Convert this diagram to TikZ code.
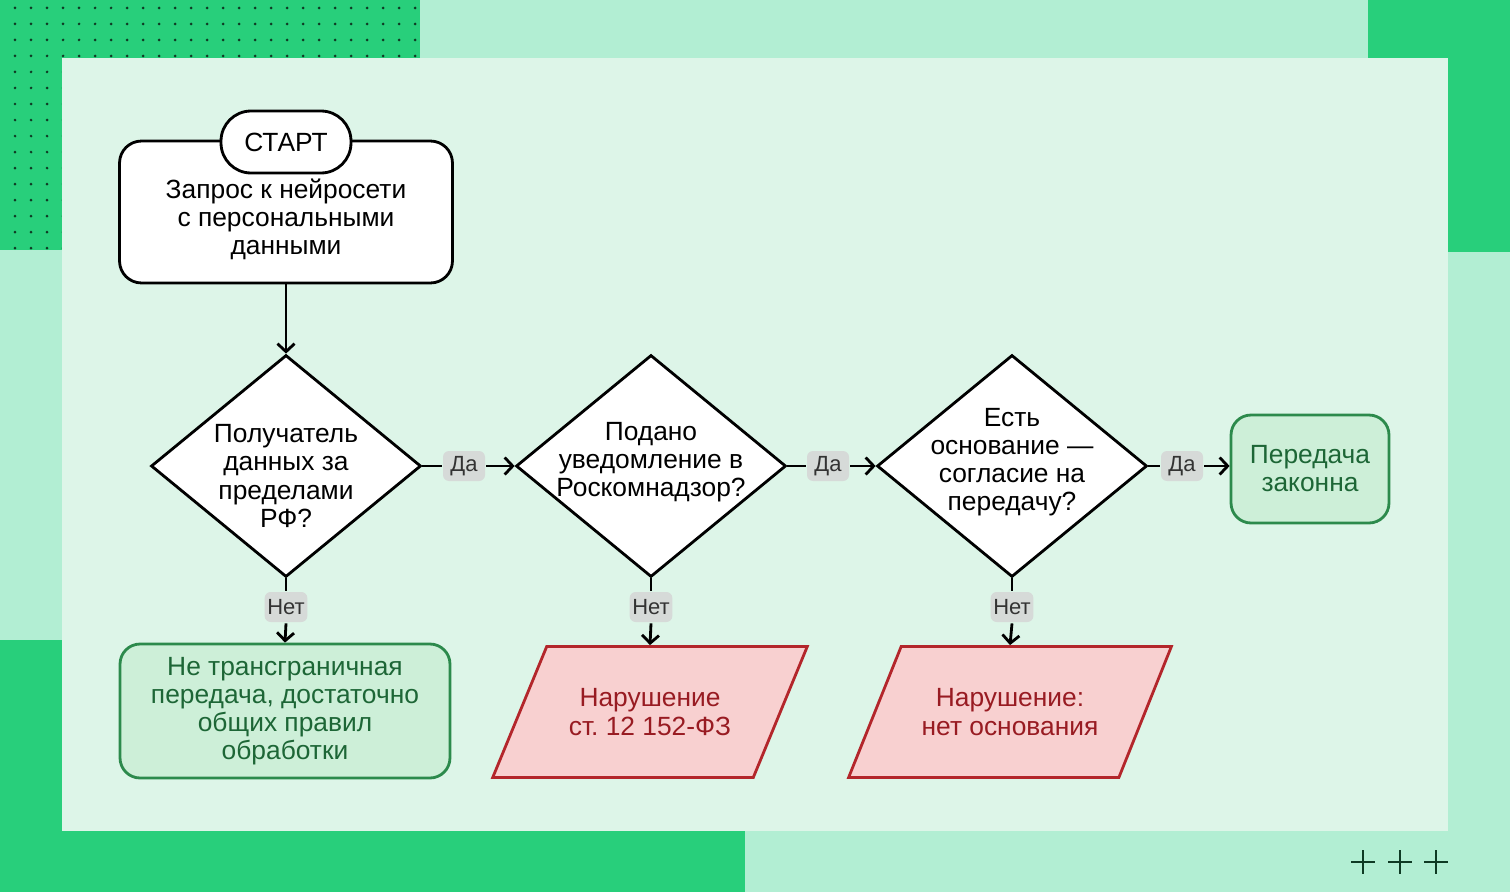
\documentclass[tikz,border=0pt]{standalone}
\usepackage{fontspec}
\setmainfont{Liberation Sans}
\usetikzlibrary{shapes.geometric,arrows.meta}
\definecolor{mint}{HTML}{B2EED3}
\definecolor{brand}{HTML}{28CF7B}
\definecolor{panel}{HTML}{DDF5E8}
\definecolor{dotc}{HTML}{0F3A24}
\definecolor{okfill}{HTML}{CDEFD8}
\definecolor{okline}{HTML}{2C8A4C}
\definecolor{oktext}{HTML}{1D6636}
\definecolor{badfill}{HTML}{F8D0D0}
\definecolor{badline}{HTML}{B3262B}
\definecolor{badtext}{HTML}{981B22}
\definecolor{tagfill}{HTML}{D6DAD8}
\begin{document}
\begin{tikzpicture}[x=0.02cm,y=-0.02cm,line width=1.6pt,
    txt/.style={font=\fontsize{15}{16}\selectfont,align=center},
    request/.style={draw=black,fill=white,rounded corners=0.44cm,minimum width=6.66cm,minimum height=2.84cm},
    startpill/.style={txt,draw=black,fill=white,rounded corners=0.6cm,minimum width=2.6cm,minimum height=1.24cm},
    decision/.style={draw=black,fill=white,shape=diamond,inner sep=0pt,minimum width=5.4cm,minimum height=4.44cm},
    dtext/.style={txt,inner sep=0pt},
    okbox/.style={txt,draw=okline,fill=okfill,text=oktext,rounded corners=0.4cm},
    badbox/.style={txt,draw=badline,fill=badfill,text=badtext,shape=trapezium,trapezium left angle=52,trapezium right angle=128,trapezium stretches=true,minimum height=2.62cm},
    tag/.style={font=\fontsize{12.5}{13}\selectfont,fill=tagfill,text=black!80,rounded corners=0.12cm,minimum width=0.84cm,minimum height=0.6cm,inner sep=1.5pt},
    arr/.style={-{Straight Barb[length=1.6mm,width=3.4mm]}}]
\useasboundingbox (0,0) rectangle (1510,892);
\fill[mint] (0,0) rectangle (1510,892);
\fill[brand] (0,0) rectangle (420,250);
\fill[brand] (1368,0) rectangle (1510,252);
\fill[brand] (0,640) rectangle (745,892);
\foreach \i in {0,...,25}
  \foreach \j in {0,...,15}
    \fill[dotc] (15+16*\i,8+16*\j) circle (0.03cm);
\fill[panel] (62,58) rectangle (1448,831);
\foreach \px in {1363,1400,1436}
  \draw[dotc,line width=1.2pt] (\px-12,862) -- (\px+12,862) (\px,850) -- (\px,874);

\node (zapros) at (286,212) [request] {};
\node (ztext) at (286,219) [txt] {Запрос к нейросети\\с персональными\\данными};
\node (start) at (286,142) [startpill] {СТАРТ};

\node (d1) at (286,466) [decision] {};
\node (q1) at (286,476) [dtext] {Получатель\\данных за\\пределами\\РФ?};
\node (d2) at (651,466) [decision] {};
\node (q2) at (651,462) [dtext] {Подано\\уведомление в\\Роскомнадзор?};
\node (d3) at (1012,466) [decision] {};
\node (q3) at (1012,462) [dtext] {Есть\\основание —\\согласие на\\передачу?};

\node (legal) at (1310,469) [okbox,minimum width=3.16cm,minimum height=2.16cm] {Передача\\законна};
\node (local) at (285,711) [okbox,minimum width=6.6cm,minimum height=2.68cm] {Не трансграничная\\передача, достаточно\\общих правил\\обработки};
\node (bad1) at (650,712) [badbox,minimum width=6.3cm] {Нарушение\\ст.\ 12 152-ФЗ};
\node (bad2) at (1010,712) [badbox,minimum width=6.46cm] {Нарушение:\\нет основания};

\node (yes1) at (464,466) [tag] {Да};
\node (yes2) at (828,466) [tag] {Да};
\node (yes3) at (1182,466) [tag] {Да};
\node (no1) at (286,607) [tag] {Нет};
\node (no2) at (651,607) [tag] {Нет};
\node (no3) at (1012,607) [tag] {Нет};

\draw[arr] (zapros) -- (d1.north);
\draw (d1.east) -- (yes1.west);
\draw[arr] (yes1.east) -- (d2.west);
\draw (d2.east) -- (yes2.west);
\draw[arr] (yes2.east) -- (d3.west);
\draw (d3.east) -- (yes3.west);
\draw[arr] (yes3.east) -- (yes3.east -| legal.west);
\draw (d1.south) -- (no1.north);
\draw[arr] (no1.south) -- (local.north);
\draw (d2.south) -- (no2.north);
\draw[arr] (no2.south) -- (bad1.north);
\draw (d3.south) -- (no3.north);
\draw[arr] (no3.south) -- (bad2.north);
\end{tikzpicture}
\end{document}
